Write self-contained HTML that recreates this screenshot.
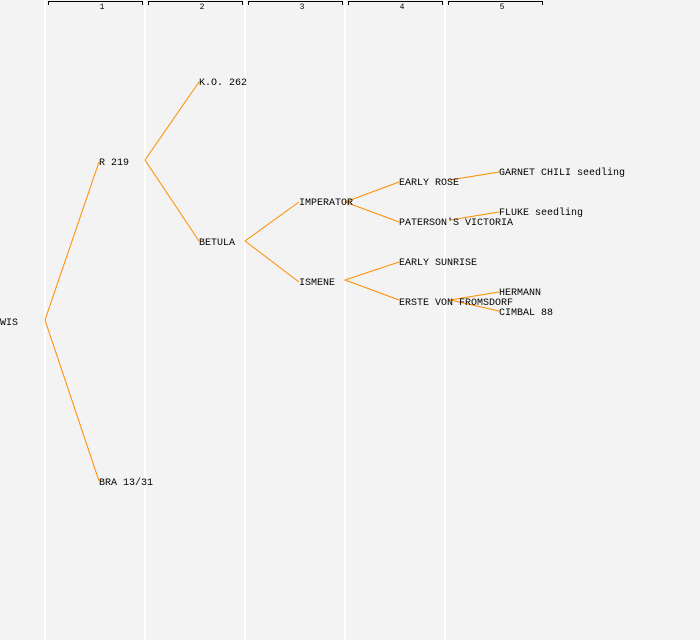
<!DOCTYPE html>
<html><head><style>
html,body{margin:0;padding:0;background:#f3f3f3;}
svg{display:block;}
text{font-family:"Liberation Mono","DejaVu Sans Mono",monospace;font-size:10px;fill:#000;}
</style></head><body>
<svg width="700" height="640" viewBox="0 0 700 640">
<rect width="700" height="640" fill="#f3f3f3"/>
<g stroke="#ffffff" stroke-width="2">
<line x1="45" y1="0" x2="45" y2="640"/><line x1="145" y1="0" x2="145" y2="640"/>
<line x1="245" y1="0" x2="245" y2="640"/><line x1="345" y1="0" x2="345" y2="640"/>
<line x1="445" y1="0" x2="445" y2="640"/>
</g>
<g stroke="#000" stroke-width="1" fill="none">
<path d="M48.5 5V1.5H142.5V5"/><path d="M148.5 5V1.5H242.5V5"/><path d="M248.5 5V1.5H342.5V5"/>
<path d="M348.5 5V1.5H442.5V5"/><path d="M448.5 5V1.5H542.5V5"/>
</g>
<g text-anchor="middle">
<text x="102" y="9" style="font-size:8px">1</text><text x="202" y="9" style="font-size:8px">2</text>
<text x="302" y="9" style="font-size:8px">3</text><text x="402" y="9" style="font-size:8px">4</text>
<text x="502" y="9" style="font-size:8px">5</text>
</g>
<g stroke="#ff8c00" stroke-width="1" fill="none">
<polyline points="99,162 45,320 99,481"/>
<polyline points="199,82 145,160 199,241"/>
<polyline points="299,202 245,241 299,282"/>
<polyline points="399,182 345,202 399,222"/>
<polyline points="399,262 345,280 399,300"/>
<line x1="450" y1="180" x2="499" y2="172"/>
<line x1="450" y1="220" x2="499" y2="212"/>
<polyline points="499,292 450,300 499,311"/>
</g>
<g>
<text x="0" y="325">WIS</text>
<text x="99" y="165">R 219</text>
<text x="99" y="485">BRA 13/31</text>
<text x="199" y="85">K.O. 262</text>
<text x="199" y="245">BETULA</text>
<text x="299" y="205">IMPERATOR</text>
<text x="299" y="285">ISMENE</text>
<text x="399" y="185">EARLY ROSE</text>
<text x="399" y="225">PATERSON'S VICTORIA</text>
<text x="399" y="265">EARLY SUNRISE</text>
<text x="399" y="305">ERSTE VON FROMSDORF</text>
<text x="499" y="175">GARNET CHILI seedling</text>
<text x="499" y="215">FLUKE seedling</text>
<text x="499" y="295">HERMANN</text>
<text x="499" y="315">CIMBAL 88</text>
</g>
</svg>
</body></html>
